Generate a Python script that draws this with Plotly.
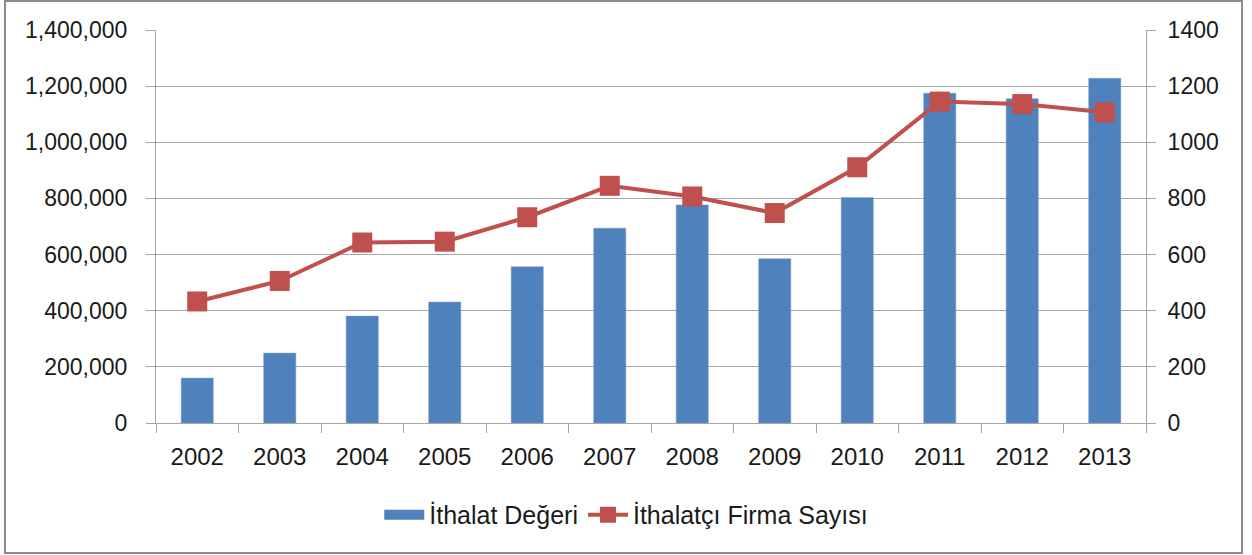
import plotly.graph_objects as go

years = ["2002", "2003", "2004", "2005", "2006", "2007", "2008", "2009", "2010", "2011", "2012", "2013"]
ithalat_degeri = [160000, 249000, 381000, 431000, 557000, 694000, 777000, 585000, 803000, 1175000, 1155000, 1228000]
firma_sayisi = [433, 506, 643, 646, 733, 845, 807, 748, 911, 1145, 1136, 1107]

left_ticks = [0, 200000, 400000, 600000, 800000, 1000000, 1200000, 1400000]
right_ticks = [0, 200, 400, 600, 800, 1000, 1200, 1400]

GRID = "#A6A6A6"
FONT = "Liberation Sans"
BLUE = "#4F81BD"
RED = "#C0504D"

fig = go.Figure()
fig.add_trace(go.Bar(
    x=years, y=ithalat_degeri, name="İthalat Değeri",
    marker=dict(color=BLUE, line=dict(color="#7FA3D0", width=0.5)),
    yaxis="y", showlegend=False,
))
# legend proxy for the bar series (wide rectangle like the original)
fig.add_trace(go.Scatter(
    x=[None], y=[None], name="İthalat Değeri", mode="lines",
    line=dict(color=BLUE, width=14), yaxis="y", showlegend=True,
))
fig.add_trace(go.Scatter(
    x=years, y=firma_sayisi, name="İthalatçı Firma Sayısı",
    mode="lines+markers",
    line=dict(color=RED, width=4),
    marker=dict(symbol="square", size=20, color=RED),
    yaxis="y2",
))

fig.update_layout(
    width=1252, height=555,
    margin=dict(l=156, r=106, t=30, b=132),
    paper_bgcolor="white", plot_bgcolor="white",
    font=dict(family=FONT, size=22, color="#1a1a1a"),
    bargap=0.61,
    showlegend=True,
    legend=dict(orientation="h", x=0.475, xanchor="center", y=-0.234, yanchor="middle",
                font=dict(size=25), itemwidth=40, tracegroupgap=0),
    xaxis=dict(
        type="category", range=[-0.5, 11.5], tickson="boundaries", ticks="outside", ticklen=9,
        tickcolor=GRID, showline=True, linecolor=GRID, linewidth=1,
        showgrid=False, tickfont=dict(size=24), automargin=False, ticklabelstandoff=12,
    ),
    yaxis=dict(
        range=[0, 1400000], tickvals=left_ticks, tickformat=",",
        showgrid=True, gridcolor=GRID, gridwidth=1,
        showline=True, linecolor=GRID, linewidth=1,
        ticks="outside", ticklen=9, tickcolor=GRID,
        zeroline=False, tickfont=dict(size=23), automargin=False, ticklabelstandoff=14,
    ),
    yaxis2=dict(
        range=[0, 1400], tickvals=right_ticks, overlaying="y", side="right",
        showgrid=False, showline=True, linecolor=GRID, linewidth=1,
        ticks="outside", ticklen=9, tickcolor=GRID,
        zeroline=False, tickfont=dict(size=23), automargin=False, ticklabelstandoff=7,
    ),
    shapes=[dict(
        type="rect", xref="paper", yref="paper",
        x0=(5 - 156) / 990, x1=(1242 - 156) / 990,
        y0=-(553 - 423) / 393, y1=(423 - 1) / 393,
        line=dict(color="#8C8C8C", width=2), fillcolor="rgba(0,0,0,0)", layer="below",
    )],
)

fig.write_html("out.html", config={"displayModeBar": False},
               post_script="document.body.style.margin='0';document.body.style.overflow='hidden';")
